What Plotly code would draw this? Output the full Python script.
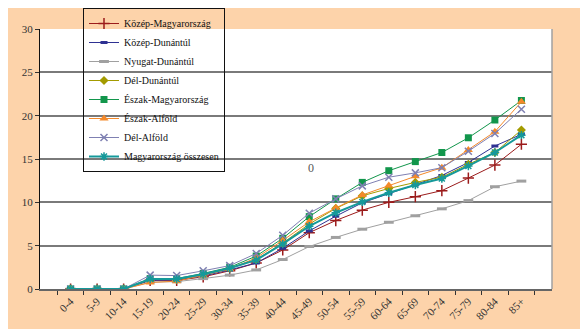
import plotly.graph_objects as go

categories = ["0-4", "5-9", "10-14", "15-19", "20-24", "25-29", "30-34", "35-39", "40-44",
              "45-49", "50-54", "55-59", "60-64", "65-69", "70-74", "75-79", "80-84", "85+"]

kozep_magyarorszag = [0, 0, 0, 1.0, 1.0, 1.4, 2.1, 3.0, 4.5, 6.5, 7.9, 9.1, 10.0, 10.65, 11.35, 12.8, 14.3, 16.7]
kozep_dunantul = [0, 0, 0, 1.0, 1.05, 1.5, 2.2, 3.0, 4.7, 6.7, 8.4, 9.95, 11.0, 12.0, 13.1, 14.6, 16.5, 17.85]
nyugat_dunantul = [0, 0, 0, 0.8, 0.85, 1.2, 1.6, 2.2, 3.4, 4.9, 5.95, 6.9, 7.7, 8.45, 9.25, 10.2, 11.8, 12.45]
del_dunantul = [0, 0, 0, 1.1, 1.1, 1.7, 2.4, 3.4, 5.3, 7.5, 9.3, 10.75, 11.6, 12.3, 12.9, 14.4, 15.75, 18.35]
eszak_magyarorszag = [0, 0, 0, 1.2, 1.2, 1.8, 2.5, 3.8, 5.85, 8.35, 10.4, 12.3, 13.65, 14.7, 15.75, 17.45, 19.5, 21.75]
eszak_alfold = [0, 0, 0, 0.75, 0.9, 1.6, 2.3, 3.6, 5.6, 7.75, 9.35, 10.85, 11.95, 13.0, 14.0, 16.05, 18.15, 21.6]
del_alfold = [0, 0, 0, 1.6, 1.55, 2.1, 2.7, 4.1, 6.2, 8.75, 10.4, 11.9, 12.9, 13.4, 14.0, 15.9, 17.95, 20.75]
magyarorszag_osszesen = [0, 0, 0, 1.15, 1.15, 1.7, 2.4, 3.35, 5.2, 7.25, 8.8, 10.05, 11.1, 12.0, 12.75, 14.2, 15.75, 17.75]

y_ticks = [0, 5, 10, 15, 20, 25, 30]

series = [
    ("Közép-Magyarország", kozep_magyarorszag, "#9B1B1B", "cross-thin-open", 8, 1, None),
    ("Közép-Dunántúl", kozep_dunantul, "#2E3192", "line-ew-open", 5, 1, 3),
    ("Nyugat-Dunántúl", nyugat_dunantul, "#A0A0A0", "line-ew-open", 7, 1, 3),
    ("Dél-Dunántúl", del_dunantul, "#A39B00", "diamond", 7, 1, None),
    ("Észak-Magyarország", eszak_magyarorszag, "#12964C", "square", 7, 1, None),
    ("Észak-Alföld", eszak_alfold, "#F4892A", "triangle-up", 8, 1, None),
    ("Dél-Alföld", del_alfold, "#7F80B2", "x-thin-open", 7, 1, None),
    ("Magyarország összesen", magyarorszag_osszesen, "#15999A", "asterisk-open", 7, 2, None),
]

fig = go.Figure()
for name, vals, color, sym, size, lw, mlw in series:
    marker = dict(symbol=sym, size=size, color=color)
    if sym.endswith("-open"):
        marker["line"] = dict(color=color, width=mlw if mlw else 1.5)
    fig.add_trace(go.Scatter(
        x=categories, y=vals, name=name, mode="lines+markers",
        line=dict(color=color, width=lw), marker=marker,
    ))

serif = "Liberation Serif, Times New Roman, serif"

# page body has an 8px margin, so the figure is sized 580x321 and placed at (8, 8)
fig.update_layout(
    width=580, height=321,
    margin=dict(l=32, r=35.5, t=21, b=40, autoexpand=False),
    paper_bgcolor="#FDD3AA",
    plot_bgcolor="white",
    font=dict(family=serif, size=11, color="#333333"),
    showlegend=True,
    legend=dict(
        xref="container", yref="container",
        x=75 / 580, y=1, xanchor="left", yanchor="top",
        bgcolor="rgba(0,0,0,0)", bordercolor="#111111", borderwidth=1,
        font=dict(family=serif, size=10, color="#111111"),
        tracegroupgap=0, itemwidth=30, maxheight=300,
    ),
    xaxis=dict(
        type="category", tickangle=-45, tickson="boundaries",
        ticks="outside", ticklen=4, tickcolor="#333333",
        showline=True, linecolor="#666666", linewidth=1.5,
        showgrid=False, tickfont=dict(family=serif, size=11, color="#333333"),
    ),
    yaxis=dict(
        range=[0, 30], tickvals=y_ticks, ticks="outside", ticklen=4,
        tickcolor="#333333", showline=True, linecolor="#111111", linewidth=1,
        showgrid=True, gridcolor="#7a7a7a", gridwidth=1.5, zeroline=False,
        tickfont=dict(family=serif, size=11, color="#333333"),
    ),
    shapes=[
        dict(type="line", xref="paper", yref="paper", x0=1, x1=1, y0=0, y1=1,
             line=dict(color="#A0A0A0", width=1.5)),
    ],
    annotations=[
        dict(text="0", xref="paper", yref="paper", x=(311 - 40) / 512.5, y=(289 - 168) / 260,
             showarrow=False, font=dict(family=serif, size=12, color="#555555")),
    ],
)

fig.write_html("out.html")
